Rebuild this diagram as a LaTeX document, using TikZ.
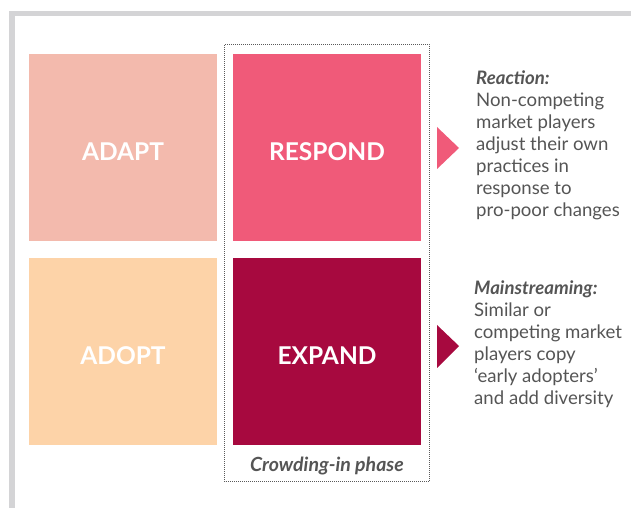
\documentclass[tikz,border=0pt]{standalone}
\usepackage{fontspec}
\setmainfont{Lato}
\definecolor{framegray}{HTML}{D4D4D6}
\definecolor{adaptc}{HTML}{F3BAAD}
\definecolor{respondc}{HTML}{F05A79}
\definecolor{adoptc}{HTML}{FDD3A8}
\definecolor{expandc}{HTML}{A7093F}
\definecolor{txtgray}{HTML}{555555}
\definecolor{dotgray}{HTML}{5A5A5A}
\newcommand{\quadtxt}[1]{\raisebox{-12.3pt}[0pt][0pt]{#1}}
\begin{document}
\begin{tikzpicture}[x=1pt,y=1pt,
  quad/.style={minimum width=188pt, minimum height=187.5pt, inner sep=0pt, text=white,
     font=\fontsize{24.5}{28}\selectfont\bfseries},
  desc/.style={anchor=west, align=left, inner sep=0pt, text=txtgray,
     font=\fontsize{18.6}{22}\selectfont},
  phase/.style={inner sep=0pt, text=txtgray, font=\fontsize{19.5}{22}\selectfont\bfseries\itshape}
]
\useasboundingbox (0,0) rectangle (631,508);
\draw[framegray, line width=5.5pt] (12,0) -- (12,494.5) -- (631,494.5);
% dotted crowding-in box
\draw[dotgray, line width=0.9pt, dash pattern=on 0.9pt off 1.1pt] (224.5,26.5) rectangle (429,464);
\node[quad, fill=adaptc] (adapt) at (123,360.25) {\quadtxt{ADAPT}};
\node[quad, fill=respondc] (respond) at (327,360.25) {\quadtxt{RESPOND}};
\node[quad, fill=adoptc] (adopt) at (123,156.25) {\quadtxt{ADOPT}};
\node[quad, fill=expandc] (expand) at (327,156.25) {\quadtxt{EXPAND}};
\node[phase] (phase) at (327,42) {Crowding-in phase};
% triangles
\coordinate (t1a) at (437,381);
\coordinate (t1b) at (459,360);
\coordinate (t1c) at (437,339);
\fill[respondc] (t1a) -- (t1b) -- (t1c) -- cycle;
\coordinate (t2a) at (437,183);
\coordinate (t2b) at (459,162);
\coordinate (t2c) at (437,140);
\fill[expandc] (t2a) -- (t2b) -- (t2c) -- cycle;
\node[desc] (reaction) at (476,363) {\textbf{\textit{Reaction:}}\\Non-competing\\market players\\adjust their own\\practices in\\response to\\pro-poor changes};
\node[desc] (mainstream) at (474,164) {\textbf{\textit{Mainstreaming:}}\\Similar or\\competing market\\players copy\\‘early adopters’\\and add diversity};
\end{tikzpicture}
\end{document}
